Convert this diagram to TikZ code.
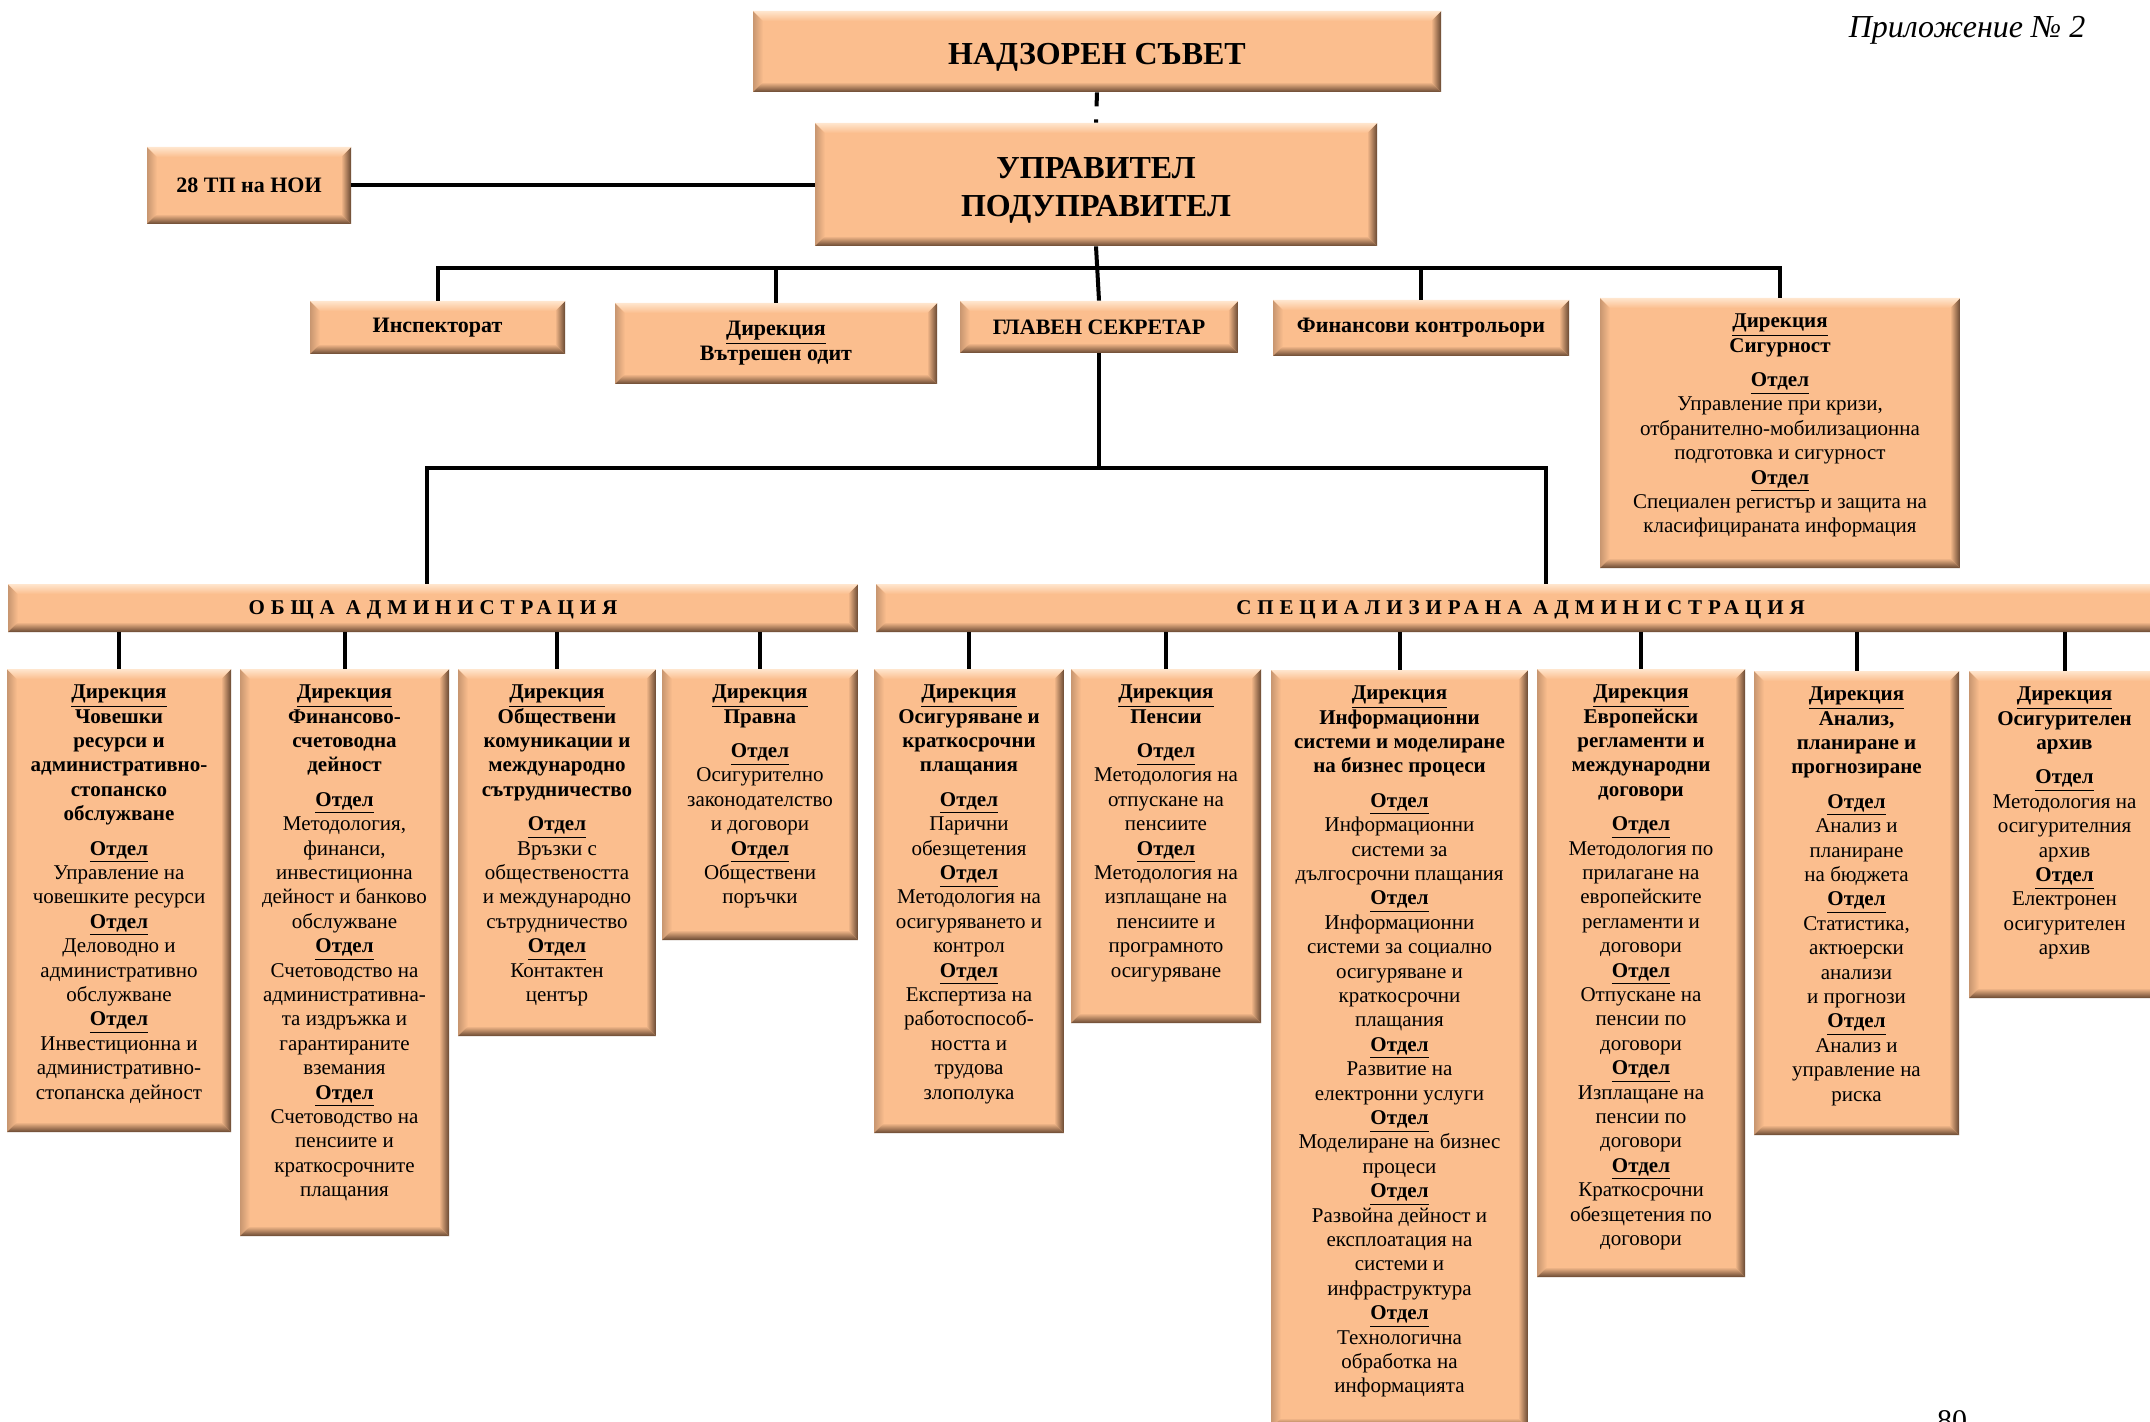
\documentclass[tikz,border=0pt]{standalone}
\usepackage{fontspec}
\setmainfont{Liberation Serif}
\newfontfamily\barfont[LetterSpace=28]{Liberation Serif}
\usepackage{xcolor}
\usepackage{tikz}
\usetikzlibrary{positioning}
\usetikzlibrary{calc,fit}

\definecolor{peach}{RGB}{251,190,142}
\definecolor{bevlight}{RGB}{255,230,206}
\definecolor{bevmid}{RGB}{200,150,112}
\definecolor{bevdark}{RGB}{104,72,50}

\newcommand{\bv}{5pt}
\newcommand{\dirl}{\underline{Дирекция}}
\newcommand{\otd}{\textbf{\underline{Отдел}}}

\tikzset{
  bevel/.style={fill=peach, inner sep=0pt, path picture={
      \coordinate (pnw) at (path picture bounding box.north west);
      \coordinate (pne) at (path picture bounding box.north east);
      \coordinate (psw) at (path picture bounding box.south west);
      \coordinate (pse) at (path picture bounding box.south east);
      \shade[left color=bevmid, right color=peach] (pnw) -- (psw) -- ([shift={(\bv,\bv)}]psw) -- ([shift={(\bv,-\bv)}]pnw) -- cycle;
      \shade[left color=peach, right color=bevdark] (pne) -- (pse) -- ([shift={(-\bv,\bv)}]pse) -- ([shift={(-\bv,-\bv)}]pne) -- cycle;
      \shade[top color=bevlight, bottom color=peach] (pnw) -- (pne) -- ([shift={(-\bv,-\bv)}]pne) -- ([shift={(\bv,-\bv)}]pnw) -- cycle;
      \shade[top color=peach, bottom color=bevdark] (psw) -- (pse) -- ([shift={(-\bv,\bv)}]pse) -- ([shift={(\bv,\bv)}]psw) -- cycle;
    }},
  dirbox/.style={bevel},
  bigtext/.style={align=center, yshift=-3pt, font=\bfseries\fontsize{16}{19}\selectfont},
  toptext/.style={align=center, font=\bfseries\fontsize{11}{12.5}\selectfont},
  bartext/.style={yshift=-1pt, font=\barfont\bfseries\fontsize{10.5}{12}\selectfont},
  dtext/.style={inner sep=0pt, align=center, font=\fontsize{10.5}{12.2}\selectfont},
  conn/.style={line width=2pt},
}

\begin{document}
\begin{tikzpicture}[x=0.5pt,y=-0.5pt]
\useasboundingbox (0,0) rectangle (2150,1422);

% management
\node[dirbox, fit={(753,11) (1441,92)}] (sup) {};
\node[bigtext] (sup-t) at (sup) {НАДЗОРЕН СЪВЕТ};
\node[dirbox, fit={(815,123) (1377,246)}] (mgr) {};
\node[bigtext] (mgr-t) at (mgr) {УПРАВИТЕЛ\\ ПОДУПРАВИТЕЛ};
\node[dirbox, fit={(147,147) (351,224)}] (noi) {};
\node[toptext] (noi-t) at (noi) {28 ТП на НОИ};
\node[font=\itshape\fontsize{16}{19}\selectfont] (annex) at (1967,30) {Приложение № 2};

% first level
\node[dirbox, fit={(310,301) (565,354)}] (insp) {};
\node[toptext] (insp-t) at (insp) {Инспекторат};
\node[dirbox, fit={(615,303) (937,384)}] (audit) {};
\node[toptext] (audit-t) at (audit) {\dirl\\ Вътрешен одит};
\node[dirbox, fit={(960,301) (1238,353)}] (sec) {};
\node[toptext] (sec-t) at (sec) {ГЛАВЕН СЕКРЕТАР};
\node[dirbox, fit={(1273,300) (1569,356)}] (fin) {};
\node[toptext] (fin-t) at (fin) {Финансови контрольори};
\node[dirbox, fit={(1600,298) (1960,568)}] (secur) {};
\node[dtext, below=8pt of secur.north] (secur-t) {\textbf{\dirl}\\ \textbf{Сигурност}\\[5pt]
  \otd\\ Управление при кризи,\\ отбранително-мобилизационна\\ подготовка и сигурност\\
  \otd\\ Специален регистър и защита на\\ класифицираната информация};

% administrations
\node[dirbox, fit={(8,584) (858,632)}] (gen) {};
\node[bartext] (gen-t) at (gen) {ОБЩА АДМИНИСТРАЦИЯ};
\node[dirbox, fit={(876,584) (2165,632)}] (spec) {};
\node[bartext] (spec-t) at (spec) {СПЕЦИАЛИЗИРАНА АДМИНИСТРАЦИЯ};

% directorates
\node[dirbox, fit={(7,669) (231,1132)}] (hr) {};
\node[dirbox, fit={(240,669) (449,1236)}] (fa) {};
\node[dirbox, fit={(458,669) (656,1036)}] (pr) {};
\node[dirbox, fit={(662,669) (858,940)}] (legal) {};
\node[dirbox, fit={(874,669) (1064,1133)}] (ins) {};
\node[dirbox, fit={(1071,669) (1261,1023)}] (pens) {};
\node[dirbox, fit={(1271,670) (1528,1428)}] (it) {};
\node[dirbox, fit={(1537,669) (1745,1277)}] (eu) {};
\node[dirbox, fit={(1754,671) (1959,1135)}] (plan) {};
\node[dirbox, fit={(1969,671) (2160,998)}] (arch) {};

\node[dtext, below=8pt of hr.north] (hr-t) {\textbf{\dirl}\\ \textbf{Човешки}\\ \textbf{ресурси и}\\
  \textbf{административно-}\\ \textbf{стопанско}\\ \textbf{обслужване}\\[5pt]
  \otd\\ Управление на\\ човешките ресурси\\ \otd\\ Деловодно и\\ административно\\ обслужване\\
  \otd\\ Инвестиционна и\\ административно-\\ стопанска дейност};
\node[dtext, below=8pt of fa.north] (fa-t) {\textbf{\dirl}\\ \textbf{Финансово-}\\ \textbf{счетоводна}\\
  \textbf{дейност}\\[5pt]
  \otd\\ Методология,\\ финанси,\\ инвестиционна\\ дейност и банково\\ обслужване\\
  \otd\\ Счетоводство на\\ административна-\\ та издръжка и\\ гарантираните\\ вземания\\
  \otd\\ Счетоводство на\\ пенсиите и\\ краткосрочните\\ плащания};
\node[dtext, below=8pt of pr.north] (pr-t) {\textbf{\dirl}\\ \textbf{Обществени}\\ \textbf{комуникации и}\\
  \textbf{международно}\\ \textbf{сътрудничество}\\[5pt]
  \otd\\ Връзки с\\ обществеността\\ и международно\\ сътрудничество\\
  \otd\\ Контактен\\ център};
\node[dtext, below=8pt of legal.north] (legal-t) {\textbf{\dirl}\\ \textbf{Правна}\\[5pt]
  \otd\\ Осигурително\\ законодателство\\ и договори\\ \otd\\ Обществени\\ поръчки};
\node[dtext, below=8pt of ins.north] (ins-t) {\textbf{\dirl}\\ \textbf{Осигуряване и}\\ \textbf{краткосрочни}\\
  \textbf{плащания}\\[5pt]
  \otd\\ Парични\\ обезщетения\\ \otd\\ Методология на\\ осигуряването и\\ контрол\\
  \otd\\ Експертиза на\\ работоспособ-\\ ността и\\ трудова\\ злополука};
\node[dtext, below=8pt of pens.north] (pens-t) {\textbf{\dirl}\\ \textbf{Пенсии}\\[5pt]
  \otd\\ Методология на\\ отпускане на\\ пенсиите\\
  \otd\\ Методология на\\ изплащане на\\ пенсиите и\\ програмното\\ осигуряване};
\node[dtext, below=8pt of it.north] (it-t) {\textbf{\dirl}\\ \textbf{Информационни}\\
  \textbf{системи и моделиране}\\ \textbf{на бизнес процеси}\\[5pt]
  \otd\\ Информационни\\ системи за\\ дългосрочни плащания\\
  \otd\\ Информационни\\ системи за социално\\ осигуряване и\\ краткосрочни\\ плащания\\
  \otd\\ Развитие на\\ електронни услуги\\ \otd\\ Моделиране на бизнес\\ процеси\\
  \otd\\ Развойна дейност и\\ експлоатация на\\ системи и\\ инфраструктура\\
  \otd\\ Технологична\\ обработка на\\ информацията};
\node[dtext, below=8pt of eu.north] (eu-t) {\textbf{\dirl}\\ \textbf{Европейски}\\ \textbf{регламенти и}\\
  \textbf{международни}\\ \textbf{договори}\\[5pt]
  \otd\\ Методология по\\ прилагане на\\ европейските\\ регламенти и\\ договори\\
  \otd\\ Отпускане на\\ пенсии по\\ договори\\ \otd\\ Изплащане на\\ пенсии по\\ договори\\
  \otd\\ Краткосрочни\\ обезщетения по\\ договори};
\node[dtext, below=8pt of plan.north] (plan-t) {\textbf{\dirl}\\ \textbf{Анализ,}\\ \textbf{планиране и}\\
  \textbf{прогнозиране}\\[5pt]
  \otd\\ Анализ и\\ планиране\\ на бюджета\\ \otd\\ Статистика,\\ актюерски\\ анализи\\ и прогнози\\
  \otd\\ Анализ и\\ управление на\\ риска};
\node[dtext, below=8pt of arch.north] (arch-t) {\textbf{\dirl}\\ \textbf{Осигурителен}\\ \textbf{архив}\\[5pt]
  \otd\\ Методология на\\ осигурителния\\ архив\\ \otd\\ Електронен\\ осигурителен\\ архив};

\node[anchor=north, inner sep=0pt, font=\fontsize{15}{18}\selectfont] (pgno) at (1952,1410) {80};

% connectors
\draw[conn, dash pattern=on 7pt off 6.5pt] (sup.south) -- (mgr.north);
\draw[conn] (noi.east) -- (noi.east -| mgr.west);
\coordinate (busA) at (0,268);
\draw[conn] (mgr.south) -- (sec.north);
\draw[conn] (insp.north) -- (insp.north |- busA) -- (secur.north |- busA) -- (secur.north);
\draw[conn] (audit.north) -- (audit.north |- busA);
\draw[conn] (fin.north) -- (fin.north |- busA);
\coordinate (busB1) at (427,468);
\coordinate (busB2) at (1546,468);
\draw[conn] (sec.south) -- (sec.south |- busB1);
\draw[conn] (gen.north -| busB1) -- (busB1) -- (busB2) -- (spec.north -| busB2);
\foreach \d in {hr,fa,pr,legal}
  \draw[conn] (\d.north) -- (\d.north |- gen.south);
\foreach \d in {ins,pens,it,eu,plan,arch}
  \draw[conn] (\d.north) -- (\d.north |- spec.south);
\end{tikzpicture}
\end{document}
